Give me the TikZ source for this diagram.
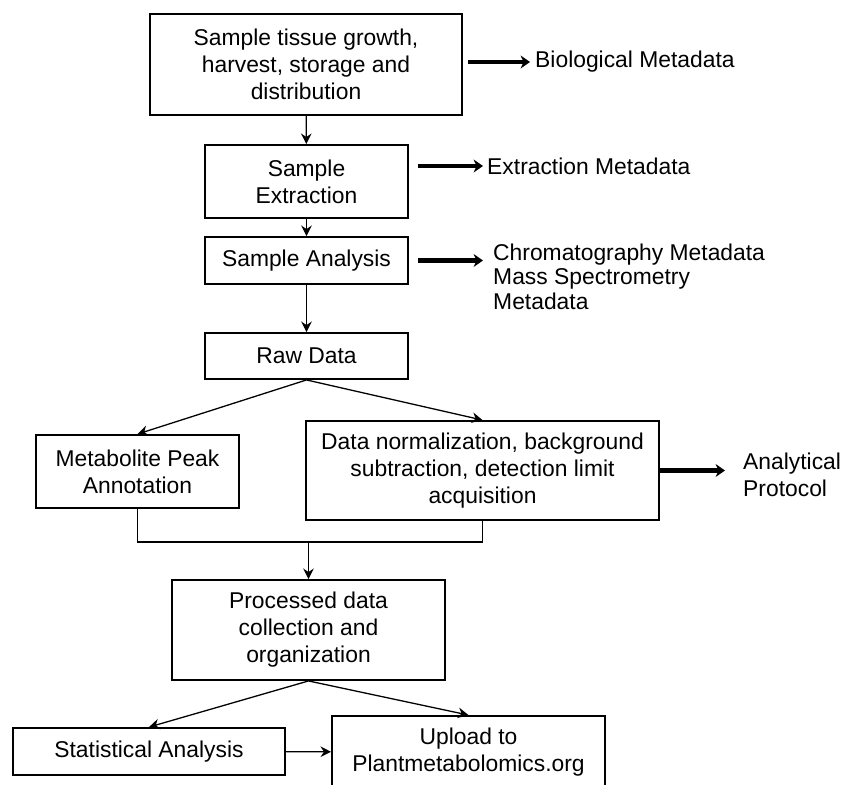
\documentclass[tikz,border=0pt]{standalone}
\usepackage{fontspec}
\setmainfont{Liberation Sans}
\usetikzlibrary{arrows.meta,calc,positioning}

\begin{document}
\begin{tikzpicture}[x=0.03cm,y=-0.03cm,
    font=\fontsize{19.5}{23}\selectfont,
    box/.style={draw,line width=1.6pt,align=center,inner sep=0pt},
    flow/.style={line width=1.1pt,-{Stealth[length=9pt,width=9pt,inset=3pt]}},
    meta/.style={line width=3.5pt,-{Stealth[length=8pt,width=11pt,inset=2.5pt]}},
    note/.style={align=left,inner sep=0pt,anchor=west}]
      \useasboundingbox (0,0) rectangle (841,785);

      % main column
      \node[box,minimum width=9.36cm,minimum height=3.03cm] (tissue) at (306,64.5)
        {Sample tissue growth,\\ harvest, storage and\\ distribution};
      \node[box,minimum width=6.09cm,minimum height=2.19cm] (extract) at (306.5,181.5)
        {Sample\\ Extraction};
      \node[box,minimum width=6.09cm,minimum height=1.41cm] (analysis) at (306.5,260.5)
        {Sample Analysis};
      \node[box,minimum width=6.09cm,minimum height=1.38cm] (raw) at (306.5,356)
        {Raw Data};
      \node[box,minimum width=6.09cm,minimum height=2.19cm] (peak) at (137.5,471.5)
        {Metabolite Peak\\ Annotation};
      \node[box,minimum width=10.59cm,minimum height=2.97cm] (norm) at (482.5,470.5)
        {Data normalization, background\\ subtraction, detection limit\\ acquisition};
      \node[box,minimum width=8.19cm,minimum height=3cm] (proc) at (308.5,630)
        {Processed data\\ collection and\\ organization};
      \node[box,minimum width=8.16cm,minimum height=1.41cm] (stat) at (149,751.5)
        {Statistical Analysis};
      \node[box,minimum width=8.19cm,minimum height=2.16cm] (upload) at (468.5,752)
        {Upload to\\ Plantmetabolomics.org};

      % metadata notes
      \node[note] (bio) at (535,62) {Biological Metadata};
      \node[note] (ext) at (487,166) {Extraction Metadata};
      \node[note,font=\fontsize{19.5}{20.8}\selectfont] (chrom) at (493,276.5)
        {Chromatography Metadata\\ Mass Spectrometry\\ Metadata};
      \node[note] (anal) at (743,475) {Analytical\\ Protocol};

      \draw[meta] ($(tissue.east |- bio.west)+(5,0)$) -- ($(bio.west)+(-5,0)$);
      \draw[meta] ($(extract.east |- ext.west)+(9,0)$) -- ($(ext.west)+(-4,0)$);
      \draw[meta] ($(analysis.east)+(9,0)$) -- ($(chrom.west |- analysis.east)+(-10,0)$);
      \draw[meta] (norm.east) -- ($(anal.west |- norm.east)+(-18,0)$);

      % flow
      \draw[flow] (tissue) -- (extract);
      \draw[flow] (extract) -- (analysis);
      \draw[flow] (analysis) -- (raw);
      \draw[flow] (raw.south) -- (peak.north);
      \draw[flow] (raw.south) -- (norm.north);
      \coordinate (join) at (308.5,542);
      \draw[line width=1.1pt] (peak.south) |- (join) -| (norm.south);
      \draw[flow] (join) -- (proc.north);
      \draw[flow] (proc.south) -- (stat.north);
      \draw[flow] (proc.south) -- (upload.north);
      \draw[flow] (stat) -- (upload);
\end{tikzpicture}
\end{document}
